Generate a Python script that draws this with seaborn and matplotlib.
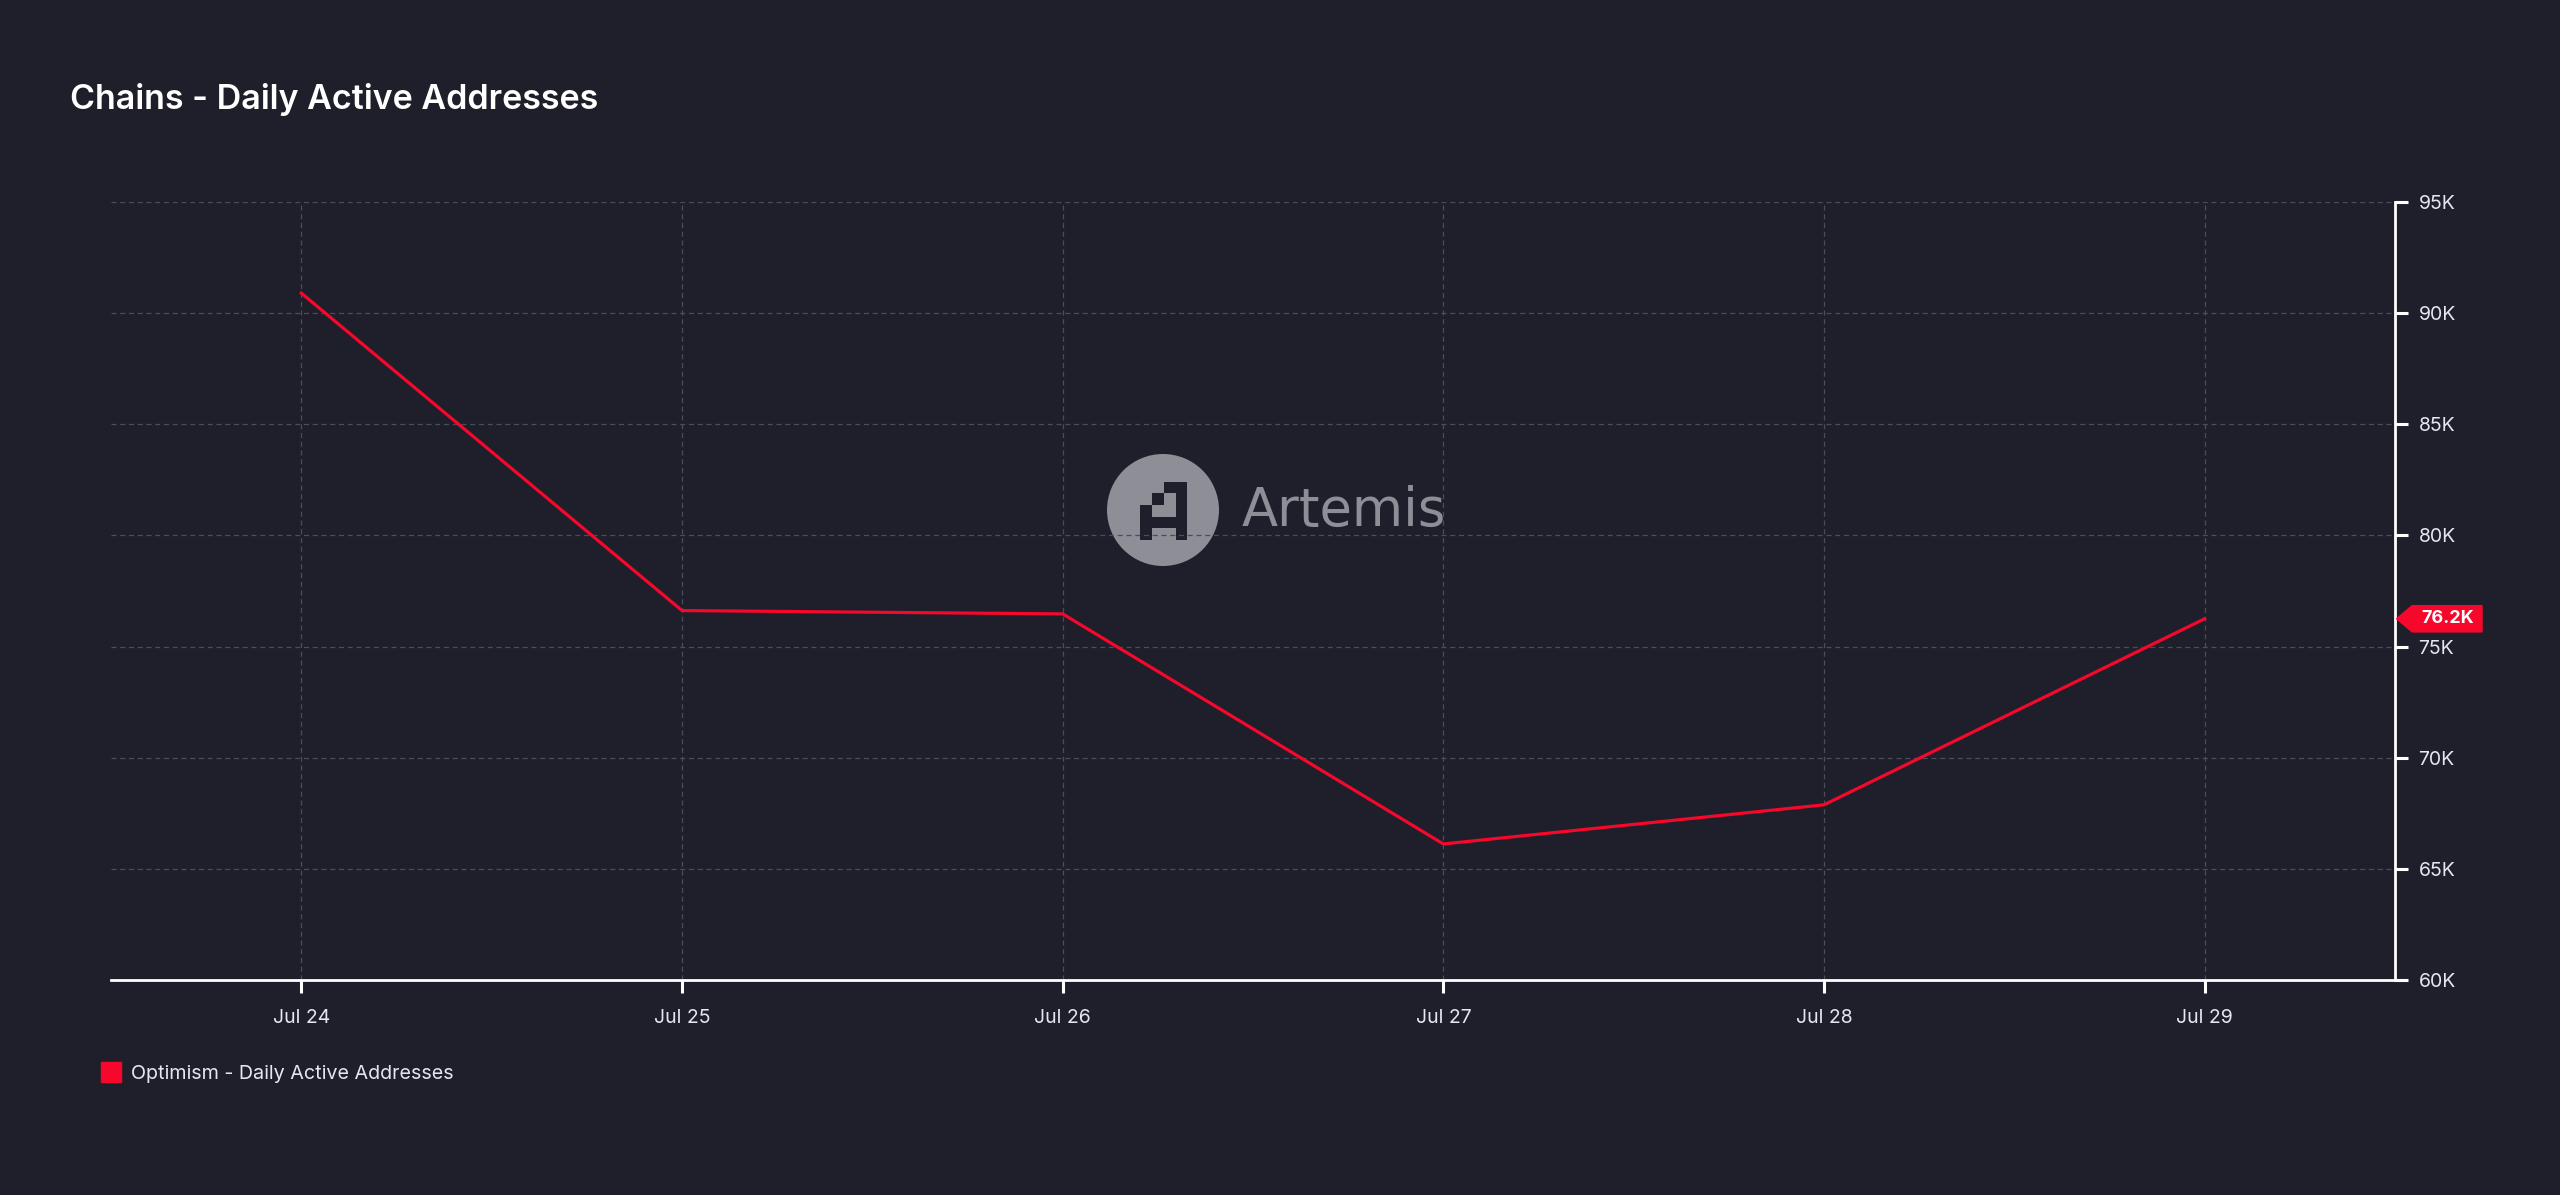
import pandas as pd
import matplotlib.pyplot as plt
import matplotlib.dates as mdates
from matplotlib.patches import Circle, Rectangle, Polygon
from matplotlib.lines import Line2D
from matplotlib.ticker import FuncFormatter, MultipleLocator
import seaborn as sns

# dados
datas = pd.date_range("2024-07-24", "2024-07-29", freq="D")
enderecos_ativos = [90900, 76620, 76470, 66120, 67880, 76250]
serie_nome = "Optimism - Daily Active Addresses"
titulo = "Chains - Daily Active Addresses"

df = pd.DataFrame({"data": datas, "enderecos": enderecos_ativos})

# cores
FUNDO = "#1e1f2a"
VERMELHO = "#f5082b"
GRADE = "#4a4d5a"
TEXTO = "#e6e7ee"
MARCA = "#8e8e96"

plt.rcParams["font.family"] = ["Inter", "DejaVu Sans"]

W, H = 2560, 1195
fig = plt.figure(figsize=(W / 100, H / 100), dpi=100, facecolor=FUNDO)

# camada de fundo para a marca d'água
ov = fig.add_axes([0, 0, 1, 1], zorder=0)
ov.set_xlim(0, W)
ov.set_ylim(H, 0)
ov.axis("off")
ov.add_patch(Circle((1163, 510), 56, color=MARCA, lw=0))
for (x0, y0, x1, y1) in [(1164.3, 481.7, 1187.3, 493.3), (1176, 481.7, 1187.3, 540),
                         (1151.7, 493.3, 1164.3, 505), (1140, 505, 1151.7, 540),
                         (1140, 516.7, 1187.3, 528.3)]:
    ov.add_patch(Rectangle((x0, y0), x1 - x0, y1 - y0, color=FUNDO, lw=0))
ov.text(1242, 511, "Artemis", color=MARCA, fontsize=38, va="center", ha="left",
        family=["DejaVu Sans"])

# gráfico principal
ax = fig.add_axes([111 / W, 1 - 980 / H, (2395 - 111) / W, (980 - 202) / H], zorder=1)
ax.patch.set_alpha(0)

sns.lineplot(data=df, x="data", y="enderecos", ax=ax, color=VERMELHO, linewidth=2.3)

ax.set_xlim(datas[0] - pd.Timedelta(hours=12), datas[-1] + pd.Timedelta(hours=12))
ax.set_ylim(60000, 95000)
ax.yaxis.set_major_locator(MultipleLocator(5000))
ax.yaxis.set_major_formatter(FuncFormatter(lambda v, p: f"{v / 1000:.0f}K"))
ax.xaxis.set_major_locator(mdates.DayLocator())
ax.xaxis.set_major_formatter(mdates.DateFormatter("%b %d"))
ax.set_xlabel("")
ax.set_ylabel("")

ax.yaxis.tick_right()
for s in ["left", "top"]:
    ax.spines[s].set_visible(False)
for s in ["right", "bottom"]:
    ax.spines[s].set_color("white")
    ax.spines[s].set_linewidth(2)

ax.tick_params(axis="y", colors="white", labelcolor=TEXTO, length=9, width=2.2,
               pad=8, labelsize=14)
ax.tick_params(axis="x", colors="white", labelcolor=TEXTO, length=9, width=2.2,
               pad=12, labelsize=14)
ax.grid(True, color=GRADE, linewidth=0.9, linestyle=(0, (4, 3)))
ax.set_axisbelow(True)

# etiqueta do último valor
ultimo = enderecos_ativos[-1]
tr = ax.get_yaxis_transform()
meia = 590
ax.add_patch(Polygon([(1.0007, ultimo), (1.0075, ultimo + meia), (1.0381, ultimo + meia),
                      (1.0381, ultimo - meia), (1.0075, ultimo - meia)],
                     closed=True, transform=tr, color=VERMELHO, clip_on=False, zorder=5))
ax.text(1.0232, ultimo, f"{ultimo / 1000:.1f}K", transform=tr, color="white",
        fontsize=13, fontweight="bold", ha="center", va="center", zorder=6)

# título
fig.text(70 / W, 1 - 100 / H, titulo, color="white", fontsize=24.5, fontweight="semibold",
         ha="left", va="center")

# legenda
handle = Line2D([], [], marker="s", color=VERMELHO, linestyle="none", markersize=14)
fig.legend([handle], [serie_nome], loc="center left", bbox_to_anchor=(101 / W, 1 - 1074 / H),
           frameon=False, handlelength=1.0, handletextpad=0.5, borderpad=0,
           borderaxespad=0, fontsize=14.2, labelcolor=TEXTO)

fig.savefig("out.png", dpi=100, facecolor=FUNDO)
